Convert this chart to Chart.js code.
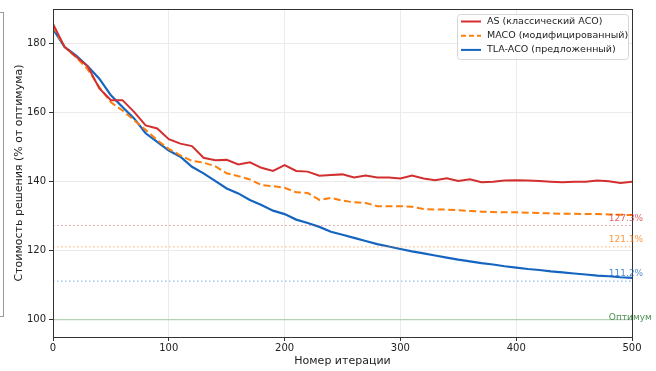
<!DOCTYPE html>
<html>
<head>
<meta charset="utf-8">
<script src="https://cdn.jsdelivr.net/npm/chart.js@4"></script>
<style>
  html, body { margin: 0; padding: 0; background: #fff; }
  #wrap { position: relative; width: 656px; height: 371px; }
  #side { position: absolute; left: -10px; top: 12px; width: 14px; height: 305px;
          border: 1px solid #999; border-left: none; box-sizing: border-box; }
</style>
</head>
<body>
<div id="wrap">
  <div id="side"></div>
  <canvas id="chart" width="656" height="371"></canvas>
</div>
<script>
// iterations (x values)
const iterations = [0, 10, 20, 30, 40, 50, 60, 70, 80, 90, 100, 110, 120, 130, 140, 150, 160, 170, 180, 190,
  200, 210, 220, 230, 240, 250, 260, 270, 280, 290, 300, 310, 320, 330, 340, 350, 360, 370, 380, 390,
  400, 410, 420, 430, 440, 450, 460, 470, 480, 490, 500];

// AS (классический ACO)
const asCost = [185.7, 179.0, 176.2, 173.4, 167.0, 163.6, 163.6, 160.2, 156.3, 155.4, 152.3, 151.0, 150.3, 146.9,
  146.2, 146.3, 145.0, 145.6, 144.0, 143.1, 144.8, 143.1, 142.9, 141.7, 141.9, 142.1, 141.2, 141.8, 141.2, 141.2,
  140.9, 141.8, 140.9, 140.4, 141.0, 140.2, 140.7, 139.8, 140.0, 140.3, 140.4, 140.3, 140.2, 140.0, 139.8, 140.0,
  140.0, 140.3, 140.1, 139.6, 140.0];

// MACO (модифицированный)
const macoCost = [185.0, 179.0, 176.0, 172.5, 167.4, 163.0, 160.6, 157.8, 155.0, 152.0, 149.5, 147.6, 146.0, 145.5,
  144.5, 142.4, 141.6, 140.6, 139.0, 138.7, 138.2, 136.9, 136.7, 134.7, 135.3, 134.5, 134.0, 133.8, 132.9, 132.9,
  132.9, 132.7, 132.1, 131.9, 131.9, 131.7, 131.5, 131.3, 131.2, 131.1, 131.1, 131.0, 130.9, 130.8, 130.7, 130.7,
  130.6, 130.6, 130.5, 130.4, 130.3];

// TLA-ACO (предложенный)
const tlaCost = [184.2, 179.0, 176.5, 173.4, 169.8, 165.0, 161.6, 158.3, 154.0, 151.5, 149.0, 147.2, 144.3, 142.4,
  140.2, 138.0, 136.6, 134.7, 133.2, 131.6, 130.6, 129.0, 128.0, 126.9, 125.5, 124.6, 123.7, 122.8, 121.9, 121.2,
  120.5, 119.8, 119.2, 118.6, 118.0, 117.4, 116.9, 116.4, 116.0, 115.5, 115.1, 114.7, 114.4, 114.0, 113.7, 113.4,
  113.1, 112.8, 112.6, 112.3, 112.1];

// horizontal reference levels and their labels
const refValues = [127.3, 121.1, 111.2, 100];
const refLabels = ['127.3%', '121.1%', '111.2%', 'Оптимум'];
const yTicks = [100, 120, 140, 160, 180];

const RED = '#d32f2f', ORANGE = '#ff7f0e', BLUE = '#1565c0';
const FONT = '"DejaVu Sans", sans-serif';

const pts = arr => arr.map((v, i) => ({ x: iterations[i], y: v }));
const flat = v => [{ x: 0, y: v }, { x: 500, y: v }];

const refStyles = [
  { color: 'rgba(211,47,47,0.5)', dash: [1.5, 2.5], text: 'rgba(211,47,47,0.75)' },
  { color: 'rgba(255,127,14,0.5)', dash: [1.5, 2.5], text: 'rgba(255,127,14,0.8)' },
  { color: 'rgba(21,101,192,0.45)', dash: [1.5, 2.5], text: 'rgba(21,101,192,0.75)' },
  { color: 'rgba(76,160,80,0.45)', dash: [], text: 'rgba(46,125,50,0.85)' },
];

const refSets = refValues.map((v, i) => ({
  label: refLabels[i],
  data: flat(v),
  borderColor: refStyles[i].color,
  borderWidth: 1.2,
  borderDash: refStyles[i].dash,
  pointRadius: 0,
  inLegend: false,
}));

const mainSets = [
  { label: 'AS (классический ACO)', data: pts(asCost), borderColor: RED, borderWidth: 2, borderDash: [], inLegend: true },
  { label: 'MACO (модифицированный)', data: pts(macoCost), borderColor: ORANGE, borderWidth: 2, borderDash: [7, 3.5], inLegend: true },
  { label: 'TLA-ACO (предложенный)', data: pts(tlaCost), borderColor: BLUE, borderWidth: 2.2, borderDash: [], inLegend: true },
].map(d => Object.assign(d, { pointRadius: 0, tension: 0 }));

// frame around the plot (matplotlib style spines)
const framePlugin = {
  id: 'frame',
  afterDraw(chart) {
    const { ctx, chartArea: a } = chart;
    ctx.save();
    ctx.strokeStyle = '#333';
    ctx.lineWidth = 1;
    ctx.strokeRect(Math.round(a.left) + 0.5, Math.round(a.top) + 0.5,
      Math.round(a.right - a.left), Math.round(a.bottom - a.top));
    ctx.restore();
  }
};

// labels next to the reference levels
const refLabelPlugin = {
  id: 'refLabels',
  afterDraw(chart) {
    const { ctx, scales: { x, y } } = chart;
    ctx.save();
    ctx.font = '9px ' + FONT;
    ctx.textAlign = 'left';
    refValues.forEach((v, i) => {
      ctx.fillStyle = refStyles[i].text;
      const px = x.getPixelForValue(480);
      const py = y.getPixelForValue(v);
      ctx.textBaseline = 'middle';
      ctx.fillText(refLabels[i], px, i === 3 ? py - 2.5 : py - 7);
    });
    ctx.restore();
  }
};

// legend box in the upper right corner
const legendPlugin = {
  id: 'boxLegend',
  afterDraw(chart) {
    const { ctx, chartArea: a } = chart;
    const sets = chart.data.datasets.filter(d => d.inLegend);
    const w = 171, h = 45;
    const x0 = a.right - w - 4, y0 = a.top + 5;
    ctx.save();
    ctx.fillStyle = 'rgba(255,255,255,0.85)';
    ctx.strokeStyle = '#d6d6d6';
    ctx.lineWidth = 1;
    ctx.beginPath();
    ctx.roundRect(x0 + 0.5, y0 + 0.5, w, h, 3);
    ctx.fill();
    ctx.stroke();
    ctx.font = '9.5px ' + FONT;
    ctx.textBaseline = 'middle';
    ctx.textAlign = 'left';
    sets.forEach((d, i) => {
      const cy = y0 + 7.5 + i * 14.2;
      ctx.strokeStyle = d.borderColor;
      ctx.lineWidth = 2;
      ctx.setLineDash(d.borderDash.length ? [5, 3] : []);
      ctx.beginPath();
      ctx.moveTo(x0 + 4, cy);
      ctx.lineTo(x0 + 24, cy);
      ctx.stroke();
      ctx.setLineDash([]);
      ctx.fillStyle = '#222';
      ctx.fillText(d.label, x0 + 30, cy);
    });
    ctx.restore();
  }
};

new Chart(document.getElementById('chart').getContext('2d'), {
  type: 'line',
  data: { datasets: [...refSets, ...mainSets] },
  options: {
    responsive: false,
    animation: false,
    layout: { padding: { left: 10, right: 24, top: 8, bottom: 2 } },
    plugins: {
      legend: { display: false },
      tooltip: { enabled: false },
    },
    scales: {
      x: {
        type: 'linear',
        min: 0,
        max: 500,
        ticks: { stepSize: 100, color: '#222', font: { family: FONT, size: 10 }, padding: 1, maxRotation: 0 },
        grid: { color: '#ebebeb', tickColor: '#333', tickLength: 4 },
        border: { color: '#333' },
        title: { display: true, text: 'Номер итерации', color: '#222', font: { family: FONT, size: 11 }, padding: { top: 2, bottom: 1 } },
        afterFit(scale) { scale.height = 32; },
      },
      y: {
        type: 'linear',
        min: 95,
        max: 190,
        afterBuildTicks(scale) { scale.ticks = yTicks.map(v => ({ value: v })); },
        ticks: { color: '#222', font: { family: FONT, size: 10 }, padding: 3 },
        grid: { color: '#ebebeb', tickColor: '#333', tickLength: 4 },
        border: { color: '#333' },
        title: { display: true, text: 'Стоимость решения (% от оптимума)', color: '#222', font: { family: FONT, size: 11 }, padding: { top: 3, bottom: 2 } },
        afterFit(scale) { scale.width = 43; },
      },
    },
  },
  plugins: [framePlugin, refLabelPlugin, legendPlugin],
});
</script>
</body>
</html>
